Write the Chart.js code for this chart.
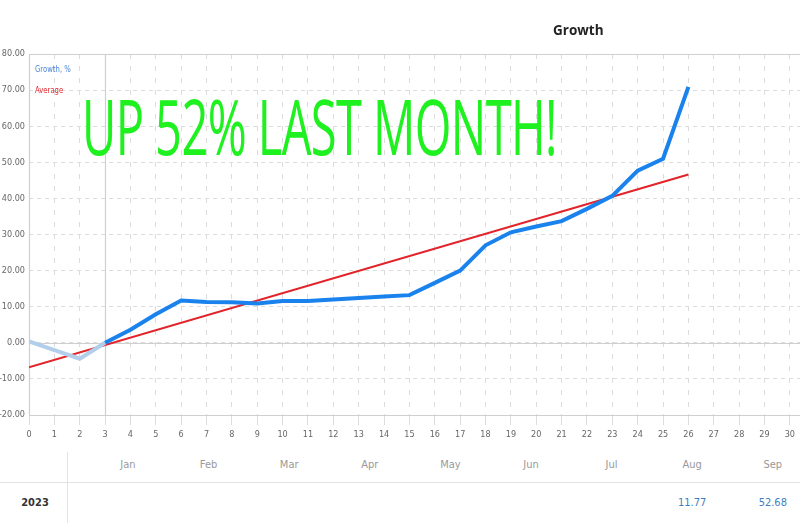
<!DOCTYPE html>
<html>
<head>
<meta charset="utf-8">
<script src="https://cdn.jsdelivr.net/npm/chart.js@4"></script>
<style>
  html, body { margin: 0; padding: 0; background: #fff; }
  body { width: 800px; height: 523px; position: relative; overflow: hidden; font-family: "DejaVu Sans Condensed", "Liberation Sans Narrow", sans-serif; }
  #wrap { position: absolute; left: 0; top: 0; width: 800px; height: 445px; }
  .abs { position: absolute; white-space: nowrap; }
  #title { left: 553px; top: 19px; font: bold 15px "Open Sans", sans-serif; color: #222; transform: scaleX(0.9); transform-origin: left top; }
  #promo { left: 82px; top: 74px; font: 400 76px "Open Sans", sans-serif; color: #1ff01f; transform: scaleX(0.62); transform-origin: left top; letter-spacing: -1px; }
  .leg { left: 35px; font-size: 9px; transform: scaleX(0.85); transform-origin: left top; }
  #table { position: absolute; left: 0; top: 445px; width: 800px; height: 78px; }
  #vline { position: absolute; left: 67px; top: 7px; width: 1px; height: 71px; background: #e3e3e3; }
  #hline { position: absolute; left: 0; top: 37px; width: 800px; height: 1px; background: #e3e3e3; }
  .cell { position: absolute; width: 60px; text-align: center; font-size: 11px; }
</style>
</head>
<body>
<div id="wrap"><canvas id="chart"></canvas></div>
<div id="title" class="abs">Growth</div>
<div id="promo" class="abs">UP 52% LAST MONTH!</div>
<div class="abs leg" style="top:64px;color:#4a86d8">Growth, %</div>
<div class="abs leg" style="top:85px;color:#e0282e">Average</div>
<div id="table">
  <div id="vline"></div>
  <div id="hline"></div>
</div>
<script>
// --- DATA ---
const days = [0, 1, 2, 3, 4, 5, 6, 7, 8, 9, 10, 11, 12, 13, 14, 15, 16, 17, 18, 19, 20, 21, 22, 23, 24, 25, 26];
const growth = [0.4, -2.0, -4.4, 0, 3.6, 7.9, 11.7, 11.3, 11.2, 10.9, 11.6, 11.6, 12.0, 12.4, 12.8, 13.2, 16.6, 20.0, 27.0, 30.6, 32.2, 33.7, 37.1, 40.7, 47.7, 51.0, 70.9];
const avgDays = [0, 26];
const average = [-6.8, 46.6];
const months = ['Jan', 'Feb', 'Mar', 'Apr', 'May', 'Jun', 'Jul', 'Aug', 'Sep'];
const year = '2023';
const monthValues = ['', '', '', '', '', '', '', '11.77', '52.68'];

const BLUE = 'rgb(26,130,236)';
const FADED = 'rgb(178,206,234)';
const RED = 'rgb(226,36,42)';
const GRID = '#dcdcdc';
const tickFont = { family: "'DejaVu Sans Condensed', 'Liberation Sans Narrow', sans-serif", size: 9 };

// --- BOTTOM TABLE ---
const table = document.getElementById('table');
function addCell(text, left, top, color, bold) {
    const d = document.createElement('div');
    d.className = 'cell';
    d.textContent = text;
    d.style.left = (left - 30) + 'px';
    d.style.top = top + 'px';
    d.style.color = color;
    if (bold) d.style.fontWeight = 'bold';
    table.appendChild(d);
}
months.forEach((m, i) => {
    const cx = 128 + i * 80.6;
    addCell(m, cx, 13, '#999');
    if (monthValues[i]) addCell(monthValues[i], cx, 51, '#3f7fbf');
});
addCell(year, 35, 51, '#333', true);

// solid frame lines: top, bottom, left, zero line and the x=3 marker
const framePlugin = {
    id: 'frame',
    beforeDatasetsDraw(chart) {
        const { ctx, chartArea, scales } = chart;
        ctx.save();
        ctx.strokeStyle = '#cfcfcf';
        ctx.lineWidth = 1.2;
        ctx.beginPath();
        [80, 0, -20].forEach(v => {
            const y = Math.round(scales.y.getPixelForValue(v)) + 0.5;
            ctx.moveTo(chartArea.left, y);
            ctx.lineTo(chartArea.right, y);
        });
        [0, 3].forEach(v => {
            const x = Math.round(scales.x.getPixelForValue(v)) + 0.5;
            ctx.moveTo(x, chartArea.top);
            ctx.lineTo(x, chartArea.bottom);
        });
        ctx.stroke();
        ctx.restore();
    }
};

new Chart(document.getElementById('chart'), {
    type: 'line',
    data: {
        datasets: [
            {
                label: 'Growth, %',
                data: days.map((d, i) => ({ x: d, y: growth[i] })),
                borderColor: BLUE,
                borderWidth: 4,
                pointRadius: 0,
                tension: 0,
                segment: {
                    borderColor: ctx => ctx.p0DataIndex < 3 ? FADED : BLUE
                }
            },
            {
                label: 'Average',
                data: avgDays.map((d, i) => ({ x: d, y: average[i] })),
                borderColor: RED,
                borderWidth: 2,
                pointRadius: 0
            }
        ]
    },
    options: {
        responsive: true,
        maintainAspectRatio: false,
        animation: false,
        layout: { padding: { top: 54, left: 0, right: 0, bottom: 0 } },
        plugins: {
            legend: { display: false },
            tooltip: { enabled: false }
        },
        scales: {
            x: {
                type: 'linear',
                min: 0,
                max: 30.4,
                afterBuildTicks: s => { s.ticks = days.concat([27, 28, 29, 30]).map(v => ({ value: v })); },
                afterFit: s => { s.height = 30; },
                ticks: { color: '#666', font: tickFont, padding: 4, maxRotation: 0, autoSkip: false },
                grid: { color: GRID, drawTicks: true, tickLength: 10, lineWidth: 1 },
                border: { display: false, dash: [5, 7] }
            },
            y: {
                min: -20,
                max: 80,
                ticks: {
                    stepSize: 10,
                    color: '#666',
                    font: tickFont,
                    padding: 4,
                    callback: v => v.toFixed(2)
                },
                afterFit: s => { s.width = 29; },
                grid: { color: GRID, drawTicks: false, lineWidth: 1 },
                border: { display: false, dash: [4, 4] }
            }
        }
    },
    plugins: [framePlugin]
});
</script>
</body>
</html>
